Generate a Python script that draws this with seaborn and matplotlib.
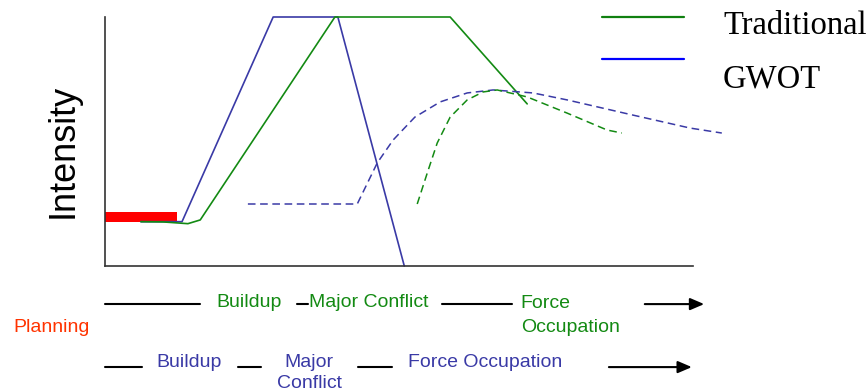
import matplotlib
matplotlib.use("Agg")
import matplotlib.pyplot as plt
import seaborn as sns
from matplotlib.lines import Line2D

# time axis 0..100 (arbitrary), intensity 0..100
trad_t = [6.1, 9.9, 14.1, 16.2, 39.1, 58.7, 71.8]
trad_i = [17.8, 17.7, 17.0, 18.5, 100, 100, 65.1]

gwot_t = [6.1, 13.1, 28.6, 39.6, 50.9]
gwot_i = [17.8, 17.8, 100, 100, 0]

gwot_occ_t = [24.3, 42.9, 46.3, 49.0, 52.7, 57.0, 61.6, 66.0, 72.8, 78.6, 89.8, 99.5, 104.9]
gwot_occ_i = [24.9, 24.9, 41.4, 50.6, 59.8, 65.9, 69.5, 70.7, 69.5, 66.7, 60.6, 55.4, 53.4]

trad_occ_t = [53.1, 54.8, 56.5, 58.7, 61.6, 64.3, 66.7, 71.8, 78.6, 85.4, 87.9]
trad_occ_i = [24.9, 37.3, 49.4, 59.8, 66.7, 69.9, 70.7, 67.9, 61.4, 54.6, 53.4]

planning_t = [0, 12.2]
planning_i = [19.7, 19.7]

# phase timeline rows (connector segments, label starts)
trad_segments = [(0, 16.2), (32.7, 34.5), (57.3, 69.2)]
trad_arrow = (91.8, 101.9)
trad_labels = ["Buildup", "Major Conflict", "Force\nOccupation"]
trad_label_t = [18.9, 34.7, 70.7]

gwot_segments = [(0, 6.3), (22.6, 26.5), (43.0, 48.8)]
gwot_arrow = (85.7, 99.8)
gwot_labels = ["Buildup", "Major\nConflict", "Force Occupation"]
gwot_label_t = [8.8, 34.7, 51.5]

legend_labels = ["Traditional", "GWOT"]

GREEN = "#138a13"
BLUE = "#3a3aa6"

sns.set_theme(style="white")
plt.rcParams["font.family"] = ["Liberation Sans", "DejaVu Sans"]

fig = plt.figure(figsize=(8.67, 3.91), dpi=100)
ax = fig.add_axes([105 / 867, 125 / 391, 588 / 867, 249 / 391])

sns.lineplot(x=planning_t, y=planning_i, ax=ax, color="#ff0000", lw=7.2,
             solid_capstyle="butt", estimator=None, sort=False)
sns.lineplot(x=gwot_t, y=gwot_i, ax=ax, color=BLUE, lw=1.2, estimator=None, sort=False)
sns.lineplot(x=trad_t, y=trad_i, ax=ax, color=GREEN, lw=1.2, estimator=None, sort=False)
sns.lineplot(x=gwot_occ_t, y=gwot_occ_i, ax=ax, color=BLUE, lw=1.1,
             estimator=None, sort=False, linestyle=(0, (5, 3)))
sns.lineplot(x=trad_occ_t, y=trad_occ_i, ax=ax, color=GREEN, lw=1.1,
             estimator=None, sort=False, linestyle=(0, (5, 3)))
for ln in ax.lines:
    ln.set_clip_on(False)

ax.set_xlim(0, 100)
ax.set_ylim(0, 100)
ax.set_xticks([])
ax.set_yticks([])
sns.despine(ax=ax)
for side in ["left", "bottom"]:
    ax.spines[side].set_color("#333333")
    ax.spines[side].set_linewidth(1.2)

ax.set_ylabel("Intensity", fontsize=26, color="black")
ax.yaxis.set_label_coords(-0.041, 0.462)

# legend, drawn by hand (keys and labels are not evenly aligned in the original)
for col, ky, ty, lab in zip(["#108010", "#0000ff"], [17, 59], [34, 87], legend_labels):
    fig.add_artist(Line2D([602 / 867, 684 / 867], [1 - ky / 391] * 2,
                          transform=fig.transFigure, color=col, lw=1.6))
    fig.text(723 / 867, 1 - ty / 391, lab, family="Liberation Serif", fontsize=23.5,
             ha="left", va="baseline", color="black")

# phase timelines below the axis
row1_y, row2_y = -15.3, -40.6
for a, b in trad_segments:
    ax.plot([a, b], [row1_y, row1_y], color="black", lw=1.5, clip_on=False)
for a, b in gwot_segments:
    ax.plot([a, b], [row2_y, row2_y], color="black", lw=1.5, clip_on=False)
for (a, b), y in [(trad_arrow, row1_y), (gwot_arrow, row2_y)]:
    ax.annotate("", xy=(b, y), xytext=(a, y), annotation_clip=False,
                arrowprops=dict(arrowstyle="-|>,head_length=0.7,head_width=0.3",
                                color="black", lw=1.5, shrinkA=0, shrinkB=0))

# baseline of the last line of each label
for lab, t in zip(trad_labels, trad_label_t):
    ax.text(t, -26.5 if "\n" in lab else -16.5, lab, color=GREEN, fontsize=14,
            ha="left", va="baseline", linespacing=1.52, clip_on=False)

for lab, t in zip(gwot_labels, gwot_label_t):
    multi = "\n" in lab
    ax.text(t, -48.9 if multi else -40.6, lab, color=BLUE, fontsize=14,
            ha="center" if multi else "left", va="baseline",
            linespacing=1.3, clip_on=False)

ax.text(-15.6, -26.5, "Planning", color="#ff3300", fontsize=14, ha="left", va="baseline",
        clip_on=False)

fig.savefig("out.png", dpi=100)
